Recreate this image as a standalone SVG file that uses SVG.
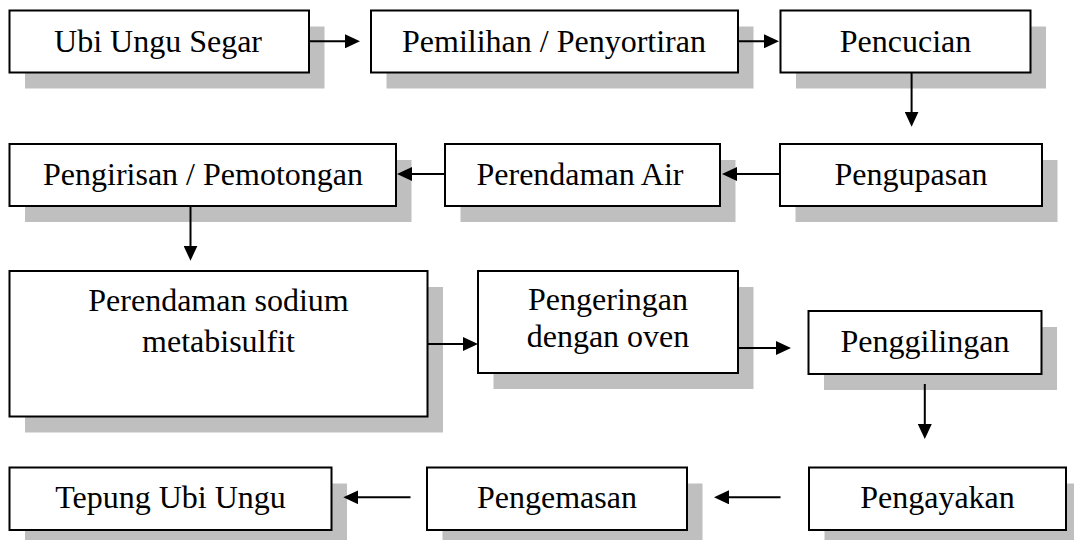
<svg xmlns="http://www.w3.org/2000/svg" width="1074" height="540" viewBox="0 0 1074 540">
<defs>
<style>
.sh{fill:#bfbfbf;stroke:none}
.bx{fill:#fff;stroke:#000;stroke-width:2}
.t{font-family:"Liberation Serif","Times New Roman",serif;font-size:32px;fill:#000;text-anchor:middle}
.c{stroke:#000;stroke-width:2;fill:none;marker-end:url(#ah)}
</style>
<marker id="ah" markerUnits="userSpaceOnUse" markerWidth="15" markerHeight="14" refX="7" refY="7" orient="auto">
<path d="M0,0 L15,7 L0,14 z" fill="#000"/>
</marker>
</defs>
<rect width="1074" height="540" fill="#fff"/>
<g id="n1"><rect class="sh" x="25" y="26.5" width="299.5" height="62"/><rect class="bx" x="9.5" y="10.5" width="299.5" height="62"/><text class="t" x="158" y="52">Ubi Ungu Segar</text></g>
<g id="n2"><rect class="sh" x="386.5" y="26.5" width="367" height="62"/><rect class="bx" x="371" y="10.5" width="367" height="62"/><text class="t" x="554" y="52">Pemilihan / Penyortiran</text></g>
<g id="n3"><rect class="sh" x="796" y="26.5" width="250" height="62"/><rect class="bx" x="780.5" y="10.5" width="250" height="62"/><text class="t" x="905.5" y="52">Pencucian</text></g>
<g id="n4"><rect class="sh" x="795.5" y="160" width="262" height="62"/><rect class="bx" x="780" y="144" width="262" height="62"/><text class="t" x="911" y="184.5">Pengupasan</text></g>
<g id="n5"><rect class="sh" x="460.5" y="160" width="275" height="62"/><rect class="bx" x="445" y="144" width="275" height="62"/><text class="t" x="580" y="184.5">Perendaman Air</text></g>
<g id="n6"><rect class="sh" x="25" y="160" width="386.5" height="62"/><rect class="bx" x="9.5" y="144" width="386.5" height="62"/><text class="t" x="203" y="184.5">Pengirisan / Pemotongan</text></g>
<g id="n7"><rect class="sh" x="25" y="287" width="418" height="145.5"/><rect class="bx" x="9.5" y="271" width="418" height="145.5"/><text class="t" x="218.5" y="310.7">Perendaman sodium</text><text class="t" x="218.5" y="352.3">metabisulfit</text></g>
<g id="n8"><rect class="sh" x="493.5" y="287" width="260" height="102"/><rect class="bx" x="478" y="271" width="260" height="102"/><text class="t" x="608" y="310">Pengeringan</text><text class="t" x="608" y="346.7">dengan oven</text></g>
<g id="n9"><rect class="sh" x="824" y="327" width="233" height="63"/><rect class="bx" x="808.5" y="311" width="233" height="63"/><text class="t" x="925" y="352">Penggilingan</text></g>
<g id="n10"><rect class="sh" x="824.5" y="483.5" width="257" height="62.5"/><rect class="bx" x="809" y="467.5" width="257" height="62.5"/><text class="t" x="937.5" y="507.5">Pengayakan</text></g>
<g id="n11"><rect class="sh" x="442.5" y="483.5" width="260" height="62.5"/><rect class="bx" x="427" y="467.5" width="260" height="62.5"/><text class="t" x="557" y="507.5">Pengemasan</text></g>
<g id="n12"><rect class="sh" x="25" y="483.5" width="322" height="62.5"/><rect class="bx" x="9.5" y="467.5" width="322" height="62.5"/><text class="t" x="170.5" y="507.5">Tepung Ubi Ungu</text></g>
<g id="connectors">
<line class="c" x1="309" y1="41.3" x2="352" y2="41.3"/>
<line class="c" x1="738" y1="41.3" x2="771" y2="41.3"/>
<line class="c" x1="911.6" y1="72.5" x2="911.6" y2="118.7"/>
<line class="c" x1="780" y1="174" x2="730" y2="174"/>
<line class="c" x1="445" y1="174" x2="405" y2="174"/>
<line class="c" x1="190.5" y1="206" x2="190.5" y2="252.7"/>
<line class="c" x1="427.5" y1="344" x2="470" y2="344"/>
<line class="c" x1="738" y1="348" x2="783" y2="348"/>
<line class="c" x1="924.8" y1="384" x2="924.8" y2="431"/>
<line class="c" x1="780.5" y1="497.3" x2="722" y2="497.3"/>
<line class="c" x1="410.5" y1="497.3" x2="351.3" y2="497.3"/>
</g>
</svg>
